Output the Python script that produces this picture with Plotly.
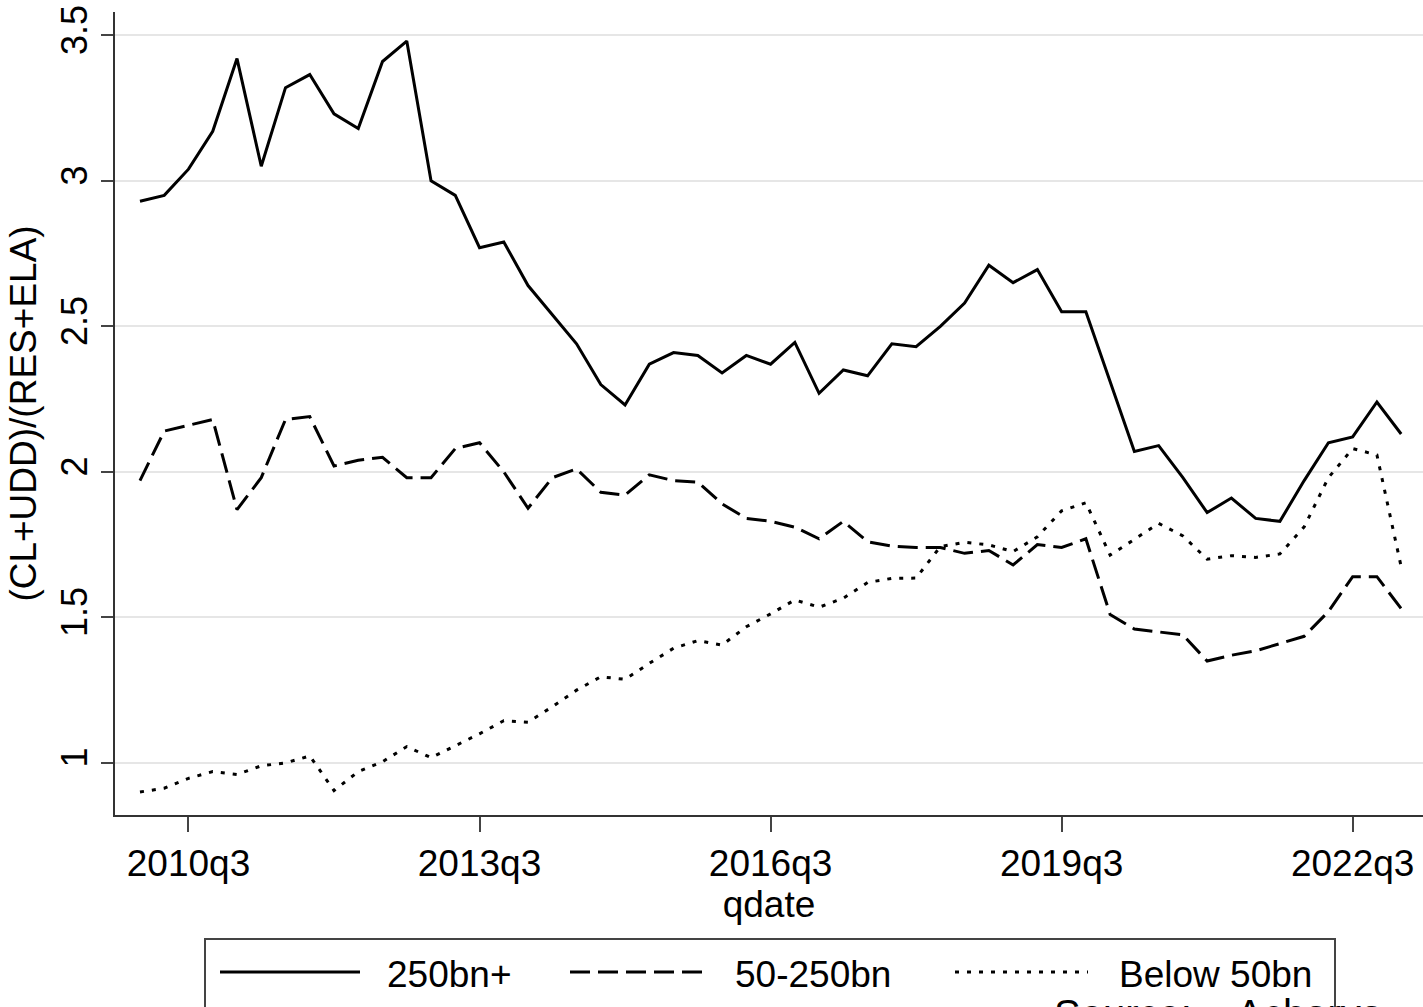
import plotly.graph_objects as go

# Quarterly dates, 2010q1 .. 2023q1
quarters = [f"{y}q{q}" for y in range(2010, 2024) for q in range(1, 5)][:53]

# (CL+UDD)/(RES+ELA) by bank size group
large_250bn = [2.93, 2.95, 3.04, 3.17, 3.42, 3.05, 3.32, 3.365, 3.23, 3.18,
               3.41, 3.48, 3.00, 2.95, 2.77, 2.79, 2.64, 2.54, 2.44, 2.30,
               2.23, 2.37, 2.41, 2.40, 2.34, 2.40, 2.37, 2.445, 2.27, 2.35,
               2.33, 2.44, 2.43, 2.50, 2.58, 2.71, 2.65, 2.695, 2.55, 2.55,
               2.31, 2.07, 2.09, 1.98, 1.86, 1.91, 1.84, 1.83, 1.97, 2.10,
               2.12, 2.24, 2.13]
mid_50_250bn = [1.97, 2.14, 2.16, 2.18, 1.87, 1.98, 2.18, 2.19, 2.02, 2.04,
                2.05, 1.98, 1.98, 2.08, 2.10, 2.00, 1.875, 1.98, 2.01, 1.93,
                1.92, 1.99, 1.97, 1.965, 1.89, 1.84, 1.83, 1.81, 1.77, 1.83,
                1.76, 1.745, 1.74, 1.74, 1.72, 1.73, 1.68, 1.75, 1.74, 1.77,
                1.51, 1.46, 1.45, 1.44, 1.35, 1.37, 1.385, 1.41, 1.435, 1.52,
                1.64, 1.64, 1.53]
small_50bn = [0.90, 0.913, 0.947, 0.97, 0.96, 0.99, 1.00, 1.024, 0.905, 0.97,
              1.004, 1.056, 1.018, 1.06, 1.10, 1.145, 1.14, 1.193, 1.25, 1.296,
              1.287, 1.342, 1.394, 1.42, 1.405, 1.468, 1.512, 1.56, 1.535, 1.566,
              1.62, 1.634, 1.635, 1.743, 1.758, 1.749, 1.726, 1.777, 1.866, 1.894,
              1.714, 1.768, 1.823, 1.78, 1.70, 1.712, 1.706, 1.718, 1.811, 1.98,
              2.08, 2.058, 1.674]

series_names = ["250bn+", "50-250bn", "Below 50bn"]
x_tick_labels = ["2010q3", "2013q3", "2016q3", "2019q3", "2022q3"]
y_tick_values = [1, 1.5, 2, 2.5, 3, 3.5]
y_tick_labels = ["1", "1.5", "2", "2.5", "3", "3.5"]

FONT = "Liberation Sans, Arial, sans-serif"
DASHES = ["solid", "20px,8px", "4px,8px"]

fig = go.Figure()
for vals, name, dash in zip([large_250bn, mid_50_250bn, small_50bn], series_names, DASHES):
    fig.add_trace(go.Scatter(
        x=quarters, y=vals, mode="lines", name=name,
        line=dict(color="black", width=3, dash=dash),
        showlegend=False,
    ))

# Hand-drawn legend box below the plot (long line samples)
W, H = 1423, 1007
L, R, T, B = 115, 0, 12, 192
pw, ph = W - L - R, H - T - B


def px(xp):
    return (xp - L) / pw


def py(yp):
    return (H - B - yp) / ph


shapes = [dict(type="rect", xref="paper", yref="paper",
               x0=px(205), x1=px(1335), y0=py(1060), y1=py(939),
               line=dict(color="#444", width=2), fillcolor="white", layer="below")]
annotations = []
legend_items = [(220, 360, 385), (570, 710, 733), (955, 1088, 1117)]
for (x0, x1, tx), name, dash in zip(legend_items, series_names, DASHES):
    shapes.append(dict(type="line", xref="paper", yref="paper",
                       x0=px(x0), x1=px(x1), y0=py(972), y1=py(972),
                       line=dict(color="black", width=3, dash=dash)))
    annotations.append(dict(xref="paper", yref="paper", x=px(tx), y=py(975),
                            xanchor="left", yanchor="middle", showarrow=False,
                            text=name, font=dict(family=FONT, size=37, color="black")))

annotations.append(dict(xref="paper", yref="paper", x=px(1052), y=py(990),
                        xanchor="left", yanchor="top", showarrow=False,
                        text="Source:&nbsp;&nbsp;&nbsp;&nbsp;Acharya",
                        font=dict(family=FONT, size=40, color="black")))

fig.update_layout(
    width=W, height=H,
    margin=dict(l=L, r=R, t=T, b=B),
    plot_bgcolor="white", paper_bgcolor="white",
    font=dict(family=FONT, size=37, color="black"),
    shapes=shapes, annotations=annotations,
    xaxis=dict(
        type="category", range=[-1.03, 52.9],
        tickmode="array", tickvals=x_tick_labels, ticktext=x_tick_labels,
        ticks="outside", ticklen=15, tickwidth=2, tickcolor="#444",
        showline=True, linecolor="#333", linewidth=2,
        showgrid=False, zeroline=False,
        title=dict(text="qdate", standoff=4, font=dict(size=37)),
        tickfont=dict(size=37),
    ),
    yaxis=dict(
        range=[0.821, 3.58],
        tickmode="array", tickvals=y_tick_values, ticktext=y_tick_labels,
        tickangle=-90,
        ticks="outside", ticklen=12, tickwidth=2, tickcolor="#444",
        showline=True, linecolor="#333", linewidth=2,
        showgrid=True, gridcolor="#e6e6e6", gridwidth=2,
        zeroline=False,
        title=dict(text="(CL+UDD)/(RES+ELA)", standoff=6, font=dict(size=37)),
        tickfont=dict(size=36),
    ),
)

fig.write_html("out.html")
